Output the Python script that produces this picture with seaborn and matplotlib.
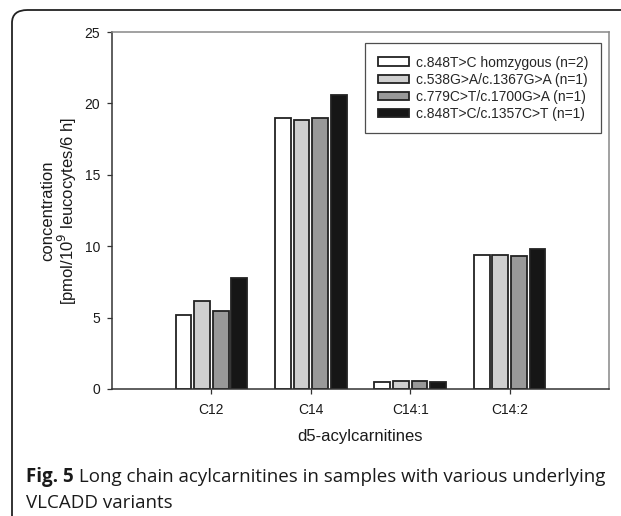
import numpy as np
import pandas as pd
import matplotlib
matplotlib.use("Agg")
import matplotlib.pyplot as plt
import seaborn as sns
from matplotlib.patches import FancyBboxPatch

categories = ["C12", "C14", "C14:1", "C14:2"]
variants = [
    "c.848T>C homzygous (n=2)",
    "c.538G>A/c.1367G>A (n=1)",
    "c.779C>T/c.1700G>A (n=1)",
    "c.848T>C/c.1357C>T (n=1)",
]
homozygous = [5.15, 19.0, 0.5, 9.4]
g538_1367 = [6.15, 18.85, 0.57, 9.4]
c779_1700 = [5.45, 19.0, 0.57, 9.3]
t848_1357 = [7.8, 20.6, 0.47, 9.8]
yticks = [0, 5, 10, 15, 20, 25]
colors = ["#ffffff", "#cfcfcf", "#999999", "#161616"]

series = [homozygous, g538_1367, c779_1700, t848_1357]
rows = []
for v, vals in zip(variants, series):
    for c, val in zip(categories, vals):
        rows.append({"cat": c, "variant": v, "value": val})
df = pd.DataFrame(rows)

sns.set_style("white")
plt.rcParams["font.family"] = ["Liberation Sans", "DejaVu Sans"]

fig = plt.figure(figsize=(6.21, 5.16), dpi=100)
ax = fig.add_axes([112/621, 1-389/516, (609-112)/621, (389-32)/516])

sns.barplot(data=df, x="cat", y="value", hue="variant", order=categories,
            hue_order=variants, palette=colors, width=0.75, gap=0.15,
            edgecolor="#222222", linewidth=1.3, saturation=1, ax=ax, errorbar=None)

ax.set_xlim(-1, 4)
ax.set_ylim(0, 25)
ax.set_yticks(yticks)
ax.tick_params(axis="both", direction="out", length=3.6, width=0.9, color="#333333",
               labelsize=10, pad=5, left=True, bottom=True, labelcolor="#1a1a1a")
ax.tick_params(axis="x", pad=6.5)
for s in ["left", "bottom"]:
    ax.spines[s].set_color("#333333")
    ax.spines[s].set_linewidth(1.1)
for s in ["top", "right"]:
    ax.spines[s].set_color("#888888")
    ax.spines[s].set_linewidth(1.1)

ax.set_xlabel("d5-acylcarnitines", fontsize=12, labelpad=8.5, color="#1a1a1a")
ax.set_ylabel("concentration\n[pmol/10$^9$ leucocytes/6 h]", fontsize=12, labelpad=4,
              linespacing=1.05, color="#1a1a1a")

leg = ax.legend(loc="upper right", bbox_to_anchor=(0.984, 0.969), fontsize=10,
                frameon=True, fancybox=False, edgecolor="#222222",
                handlelength=2.25, handleheight=0.55, labelspacing=0.22,
                borderpad=0.9, handletextpad=0.5, borderaxespad=0)
leg.get_frame().set_linewidth(0.9)

# card border
card = FancyBboxPatch((12/621, -0.1), 1.2, (516-10)/516 + 0.1,
                      boxstyle="round,pad=0,rounding_size=0.025",
                      transform=fig.transFigure, facecolor="none",
                      edgecolor="#222222", linewidth=1.3, clip_on=False)
fig.patches.append(card)

# caption
cap_font = ["Open Sans", "DejaVu Sans"]
t1 = fig.text(26/621, 1-477/516, "Fig. 5", fontsize=13.5, fontweight="bold",
              family=cap_font, va="center", ha="left", color="#1a1a1a")
fig.canvas.draw()
bb = t1.get_window_extent(fig.canvas.get_renderer())
x_end = bb.x1 / fig.bbox.width
fig.text(x_end, 1-477/516, " Long chain acylcarnitines in samples with various underlying",
         fontsize=13.5, family=cap_font, va="center", ha="left", color="#1a1a1a")
fig.text(26/621, 1-503/516, "VLCADD variants", fontsize=13.5, family=cap_font,
         va="center", ha="left", color="#1a1a1a")

fig.savefig("out.png", dpi=100)
